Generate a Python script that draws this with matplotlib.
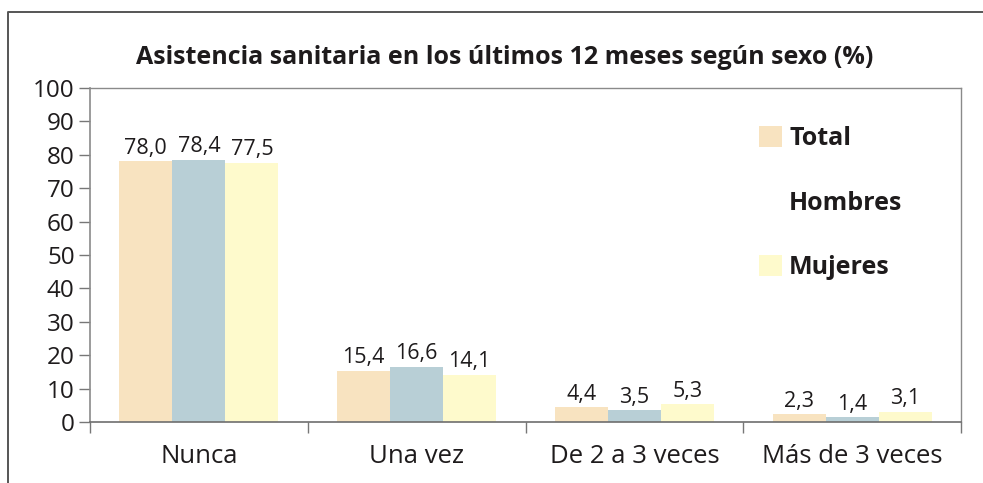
import matplotlib
matplotlib.use("Agg")
import matplotlib.pyplot as plt
from matplotlib.patches import Patch
from matplotlib.lines import Line2D
import numpy as np

categories = ["Nunca", "Una vez", "De 2 a 3 veces", "Más de 3 veces"]
series_names = ["Total", "Hombres", "Mujeres"]
total = [78.0, 15.4, 4.4, 2.3]
hombres = [78.4, 16.6, 3.5, 1.4]
mujeres = [77.5, 14.1, 5.3, 3.1]
yticks = [0, 10, 20, 30, 40, 50, 60, 70, 80, 90, 100]
title = "Asistencia sanitaria en los últimos 12 meses según sexo (%)"

colors = ["#F8E3C0", "#B8CFD6", "#FEFACC"]
TXT = "#1e1b1c"
FONT = "Open Sans"
plt.rcParams['font.family'] = [FONT, 'DejaVu Sans']

W, H = 983, 483
fig = plt.figure(figsize=(W / 100, H / 100), dpi=100)
L, R, T, B = 90, 961, 88, 422
ax = fig.add_axes([L / W, 1 - B / H, (R - L) / W, (B - T) / H])

n = len(categories)
x = np.arange(n)
bw = 0.2434
offsets = [-bw, 0, bw]
all_series = [total, hombres, mujeres]
conts = []
for vals, off, c in zip(all_series, offsets, colors):
    bc = ax.bar(x + off, vals, width=bw, color=c, edgecolor='none', zorder=2)
    conts.append(bc)
    for xi, v in zip(x, vals):
        ax.annotate(f"{v:.1f}".replace(".", ","), (xi + off, v),
                    xytext=(0, 2), textcoords="offset points",
                    ha="center", va="bottom", fontsize=15.5, color=TXT)

ax.set_xlim(-0.5, n - 0.5)
ax.set_ylim(0, 100)
ax.set_yticks(yticks)
ax.set_yticklabels([str(t) for t in yticks], fontsize=17.5, color=TXT)
ax.set_xticks(np.arange(n + 1) - 0.5)
ax.set_xticklabels([])
ax.set_xticks(x, minor=True)
ax.set_xticklabels(categories, minor=True, fontsize=18.5, color=TXT)
ax.tick_params(axis='x', which='minor', length=0, pad=16)
ax.tick_params(axis='x', which='major', length=8, width=1, color="#777777", direction='out')
ax.tick_params(axis='y', length=8, width=1, color="#777777", direction='out', pad=3)

for s in ['top', 'right']:
    ax.spines[s].set_color("#8a8a8a")
    ax.spines[s].set_linewidth(1.0)
ax.spines['left'].set_color("#8a8a8a")
ax.spines['left'].set_linewidth(1.2)
ax.spines['bottom'].set_color("#6e6e6e")
ax.spines['bottom'].set_linewidth(1.2)

fig.text(505 / W, 1 - 58 / H, title, ha="center", va="center",
         fontsize=18, fontweight="bold", color=TXT)

handles = [conts[0], Patch(facecolor="white", edgecolor="none"), conts[2]]
leg = fig.legend(handles, series_names, loc="upper left",
                 bbox_to_anchor=(759 / W, 1 - 126 / H), bbox_transform=fig.transFigure,
                 frameon=False, prop={"family": FONT, "weight": "bold", "size": 18},
                 handlelength=0.92, handleheight=0.92, handletextpad=0.28,
                 labelspacing=1.57, borderpad=0, borderaxespad=0)
for t in leg.get_texts():
    t.set_color(TXT)

fig.add_artist(Line2D([8 / W, 8 / W, 1.0], [0.0, 1 - 12 / H, 1 - 12 / H],
                      transform=fig.transFigure, color="#555555", linewidth=1.4))

fig.savefig("out.png", dpi=100)
